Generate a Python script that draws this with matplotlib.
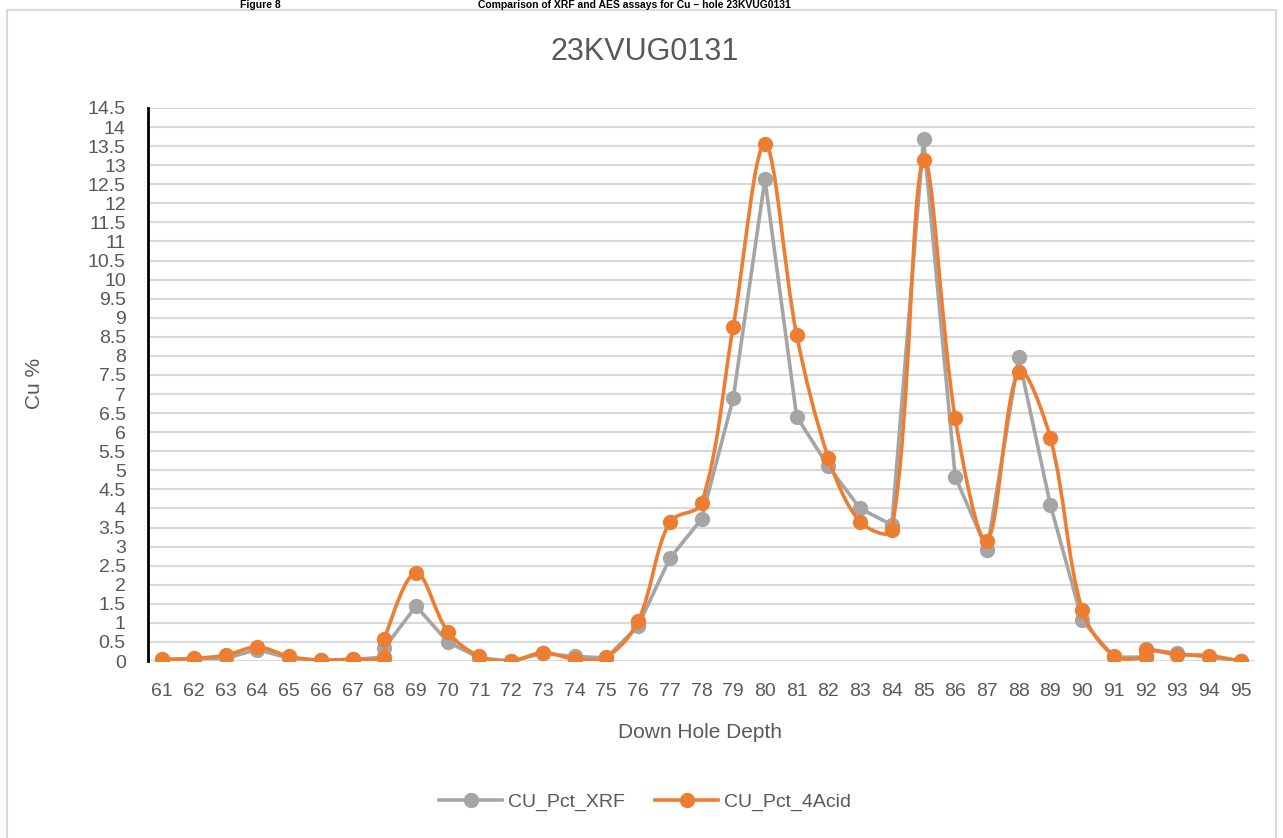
import numpy as np
import matplotlib.pyplot as plt
from matplotlib import ticker
from matplotlib.path import Path
from matplotlib.patches import PathPatch, Rectangle

plt.rcParams['font.family'] = ['Liberation Sans', 'DejaVu Sans']

# down hole depth, 68 and 92 have two samples each
depth = [61, 62, 63, 64, 65, 66, 67, 68, 68, 69, 70, 71, 72, 73, 74, 75, 76, 77, 78,
         79, 80, 81, 82, 83, 84, 85, 86, 87, 88, 89, 90, 91, 92, 92, 93, 94, 95]
cu_xrf = [0.03, 0.06, 0.07, 0.30, 0.07, 0.02, 0.04, 0.10, 0.34, 1.44, 0.50, 0.08, 0.00,
          0.20, 0.12, 0.08, 0.92, 2.69, 3.72, 6.89, 12.63, 6.41, 5.10, 4.00, 3.57, 13.70,
          4.83, 2.91, 7.96, 4.09, 1.07, 0.10, 0.10, 0.32, 0.20, 0.10, 0.01]
cu_4acid = [0.04, 0.07, 0.15, 0.37, 0.12, 0.02, 0.05, 0.09, 0.58, 2.31, 0.77, 0.12, 0.00,
            0.22, 0.05, 0.10, 1.04, 3.65, 4.13, 8.77, 13.55, 8.55, 5.33, 3.65, 3.43, 13.14,
            6.36, 3.15, 7.59, 5.84, 1.34, 0.14, 0.10, 0.28, 0.17, 0.14, 0.00]

x_ticks = list(range(61, 96))
y_ticks = np.arange(0, 14.51, 0.5)

GREY = '#A5A5A5'
ORANGE = '#ED7D31'
TXT = '#595959'


def smooth_path(ax, xs, ys):
    # excel style smoothed line, done in pixel space so the
    # tangents get scaled by the chord lengths (less overshoot)
    trans = ax.transData
    pts = trans.transform(np.column_stack([xs, ys]).astype(float))
    n = len(pts)

    def dist(a, b):
        return np.hypot(*(pts[b] - pts[a]))

    verts = [pts[0]]
    codes = [Path.MOVETO]
    for i in range(n - 1):
        i0 = max(i - 1, 0)
        i3 = min(i + 2, n - 1)
        d01, d12, d23 = dist(i0, i), dist(i, i + 1), dist(i + 1, i3)
        f1 = d12 / (d01 + d12) if d01 + d12 > 0 else 0
        f2 = d12 / (d12 + d23) if d12 + d23 > 0 else 0
        c1 = pts[i] + (pts[i + 1] - pts[i0]) * f1 / 3
        c2 = pts[i + 1] - (pts[i3] - pts[i]) * f2 / 3
        verts += [c1, c2, pts[i + 1]]
        codes += [Path.CURVE4] * 3
    verts = trans.inverted().transform(np.array(verts))
    return Path(verts, codes)


W, H = 1283, 838
fig = plt.figure(figsize=(W / 100, H / 100), dpi=100)
ax = fig.add_axes([148 / W, 1 - 661 / H, (1255 - 148) / W, (661 - 108) / H])

# chart frame
fig.patches.append(Rectangle((7 / W, -0.05), (1276 - 7) / W, 1.05 - 10 / H,
                             transform=fig.transFigure, fill=False,
                             edgecolor='#D9D9D9', lw=1.5))

ax.set_xlim(60.55, 95.45)
ax.set_ylim(0, 14.5)

ax.plot(depth, cu_xrf, color=GREY, lw=2.6, marker='o', ms=10,
        label='CU_Pct_XRF', zorder=3, solid_joinstyle='round')
ax.add_patch(PathPatch(smooth_path(ax, depth, cu_4acid), fill=False,
                       edgecolor=ORANGE, lw=2.6, zorder=4))
ax.plot(depth, cu_4acid, color=ORANGE, lw=0, marker='o', ms=10, zorder=5)
ax.plot([], [], color=ORANGE, lw=2.6, marker='o', ms=10, label='CU_Pct_4Acid')

ax.set_xticks(x_ticks)
ax.set_yticks(y_ticks)
ax.yaxis.set_major_formatter(ticker.FuncFormatter(lambda v, pos: f"{v:g}"))
ax.grid(axis='y', color='#D9D9D9', lw=1.5)
ax.set_axisbelow(True)
for s in ['top', 'right', 'bottom']:
    ax.spines[s].set_visible(False)
ax.spines['left'].set_color('black')
ax.spines['left'].set_linewidth(2)
ax.tick_params(axis='both', length=0, labelsize=14, labelcolor=TXT)
ax.tick_params(axis='y', pad=16)
ax.tick_params(axis='x', pad=16)

fig.text(645 / W, 1 - 52 / H, '23KVUG0131', ha='center', va='center',
         fontsize=22, color=TXT)
fig.text(700 / W, 1 - 732 / H, 'Down Hole Depth', ha='center', va='center',
         fontsize=15, color=TXT)
fig.text(35 / W, 1 - 383 / H, 'Cu %', ha='center', va='center', rotation=90,
         fontsize=15, color=TXT)

# report caption above the chart frame
fig.text(240 / W, 1 - 0.5 / H, 'Figure 8', ha='left', va='top',
         fontsize=7.5, fontweight='bold', color='black')
fig.text(478 / W, 1 - 0.5 / H, 'Comparison of XRF and AES assays for Cu \u2013 hole 23KVUG0131',
         ha='left', va='top', fontsize=7.5, fontweight='bold', color='black')

fig.legend(loc='center', bbox_to_anchor=(645 / W, 1 - 802 / H), ncol=2, frameon=False,
           fontsize=14, labelcolor=TXT, handlelength=3.2, handletextpad=0.3,
           columnspacing=1.6)

fig.savefig('out.png', dpi=100)
